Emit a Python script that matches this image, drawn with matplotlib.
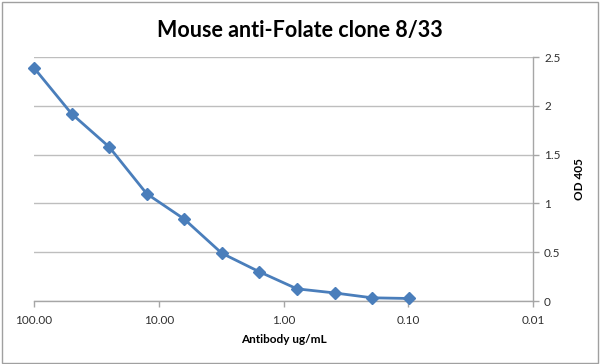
import matplotlib
matplotlib.use("Agg")
import matplotlib.pyplot as plt
from matplotlib.patches import Rectangle
from matplotlib.ticker import FixedLocator, FixedFormatter, NullLocator

plt.rcParams['font.family'] = ['Lato', 'DejaVu Sans']

# Datos
conc = [100, 50, 25, 12.5, 6.25, 3.125, 1.5625, 0.78, 0.39, 0.195, 0.098]
od405 = [2.39, 1.92, 1.58, 1.10, 0.84, 0.49, 0.30, 0.125, 0.083, 0.033, 0.026]
x_ticks = [100, 10, 1, 0.1, 0.01]
x_labels = ["100.00", "10.00", "1.00", "0.10", "0.01"]
y_ticks = [0, 0.5, 1, 1.5, 2, 2.5]
y_labels = ["0", "0.5", "1", "1.5", "2", "2.5"]

fig = plt.figure(figsize=(6, 3.64), dpi=100)
ax = fig.add_axes([0.0567, 0.173, 0.8316, 0.670])

ax.plot(conc, od405, color="#4A7EBB", linewidth=2, marker="D", markersize=6,
        markerfacecolor="#4A7EBB", markeredgecolor="#4A7EBB", zorder=3,
        clip_on=False)

ax.set_xscale("log")
ax.set_xlim(100, 0.01)
ax.set_ylim(0, 2.5)
ax.xaxis.set_major_locator(FixedLocator(x_ticks))
ax.xaxis.set_major_formatter(FixedFormatter(x_labels))
ax.xaxis.set_minor_locator(NullLocator())
ax.yaxis.set_major_locator(FixedLocator(y_ticks))
ax.yaxis.set_major_formatter(FixedFormatter(y_labels))

ax.yaxis.tick_right()
ax.yaxis.set_label_position("right")
ax.grid(axis="y", color="#BEBEBE", linewidth=1)
ax.set_axisbelow(True)

for s in ["left", "top"]:
    ax.spines[s].set_visible(False)
for s in ["bottom", "right"]:
    ax.spines[s].set_color("#A6A6A6")
    ax.spines[s].set_linewidth(1)

ax.tick_params(axis="x", colors="#A6A6A6", labelcolor="#303030", labelsize=8.5,
               length=4, width=1, pad=6)
ax.tick_params(axis="y", colors="#A6A6A6", labelcolor="#303030", labelsize=8.5,
               length=4, width=1, pad=4)

ax.set_xlabel("Antibody ug/mL", fontsize=8.5, fontweight="bold", labelpad=6)
ax.set_ylabel("OD 405", fontsize=8.5, fontweight="bold", labelpad=10)

fig.text(0.5, 0.915, "Mouse anti-Folate clone 8/33", ha="center", va="center",
         fontsize=15.5, fontweight="bold")

# Marco exterior
fig.patches.append(Rectangle((0.003, 0.004), 0.993, 0.99, transform=fig.transFigure,
                             fill=False, edgecolor="#A0A0A0", linewidth=1))

fig.savefig("out.png", dpi=100)
